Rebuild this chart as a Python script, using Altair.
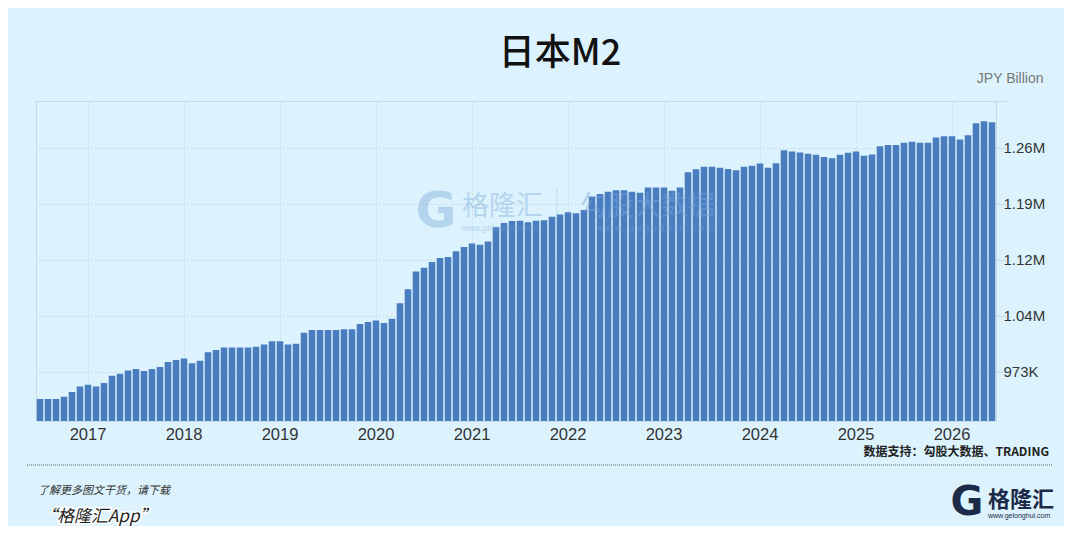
import altair as alt
import pandas as pd

# ---------------- data ----------------
months = [f"{y}-{m:02d}" for y in range(2016, 2027) for m in range(1, 13)][6:126]
year_ticks = [f"{y}-01" for y in range(2017, 2027)]

m2_values = [
    938000, 938000, 938000, 941000, 947000, 954000, 956500, 954000, 958500, 968000,
    970500, 974500, 976500, 974000, 976500, 979000, 985500, 988000, 990000, 984000,
    987000, 998000, 1001000, 1004000, 1004000, 1004000, 1004000, 1005000, 1008000, 1012000,
    1012000, 1008000, 1009000, 1023000, 1026300, 1026300, 1026300, 1026300, 1027400, 1027400,
    1034000, 1036800, 1038500, 1035500, 1040900, 1060700, 1078700, 1101400, 1106200, 1113600,
    1118700, 1120000, 1127200, 1132800, 1137300, 1135600, 1139600, 1157800, 1163400, 1166000,
    1166200, 1164400, 1166200, 1166900, 1171500, 1174200, 1177200, 1175800, 1180000, 1197300,
    1200500, 1203300, 1205300, 1205300, 1203500, 1202200, 1208900, 1208900, 1208900, 1204800,
    1208900, 1228300, 1232200, 1235400, 1235400, 1234100, 1232600, 1231000, 1235500, 1236800,
    1239500, 1234100, 1239800, 1256400, 1254900, 1253600, 1252000, 1250600, 1247800, 1246200,
    1250600, 1253400, 1254900, 1249300, 1250900, 1261700, 1263200, 1263200, 1266000, 1267300,
    1266000, 1266000, 1272900, 1274400, 1274400, 1270200, 1275600, 1291000, 1293700, 1292300,
]

y_domain = [910000, 1319500]
y_ticks = [973000, 1044600, 1116200, 1187800, 1259400, 1319500]

title_text = "日本M2"
unit_text = "JPY Billion"
source_text = "数据支持：勾股大数据、TRADING"
promo_line1 = "了解更多图文干货，请下载"
promo_line2 = "“格隆汇App”"

df = pd.DataFrame({"month": months, "value": m2_values})

BG = "#dcf3fd"
GRID = "#c6dbe6"
BAR = "#4a7dbf"
NAVY = "#1b2a48"
WM = "#7aa8da"
LATIN = "Liberation Sans"
CJK = "Noto Sans CJK SC"

bars = alt.Chart(df).mark_bar(color=BAR, clip=True).encode(
    x=alt.X(
        "month:O",
        sort=None,
        scale=alt.Scale(paddingInner=0.18, paddingOuter=0.09),
        axis=alt.Axis(
            values=year_ticks,
            labelExpr="substring(datum.value, 0, 4)",
            labelAngle=0,
            ticks=False,
            tickSize=0,
            domain=False,
            grid=True,
            gridColor=GRID,
            gridDash=[2, 2],
            labelFont=LATIN,
            labelFontSize=16.5,
            labelColor="#333333",
            labelPadding=5,
            title=None,
        ),
    ),
    y=alt.Y(
        "value:Q",
        scale=alt.Scale(domain=y_domain, nice=False, zero=False),
        axis=alt.Axis(
            orient="right",
            values=y_ticks,
            labelExpr="datum.value > 1300000 ? '' : (datum.value < 1000000 ? format(datum.value / 1000, '.0f') + 'K' : format(datum.value / 1000000, '.2f') + 'M')",
            ticks=True,
            tickSize=10,
            tickColor=GRID,
            domain=False,
            grid=True,
            gridColor=GRID,
            gridDash=[2, 2],
            labelFont=LATIN,
            labelFontSize=15,
            labelColor="#333333",
            labelPadding=-3,
            title=unit_text,
            titleAngle=0,
            titleAlign="right",
            titleBaseline="middle",
            titleX=47,
            titleY=-23,
            titleFont=LATIN,
            titleFontSize=14,
            titleFontWeight="normal",
            titleColor="#777777",
        ),
    ),
)

one = pd.DataFrame({"k": [0]})


def label(text, x, y, **style):
    return alt.Chart(one).mark_text(text=text, **style).encode(
        x=alt.value(x), y=alt.value(y)
    )


def rule(x, x2, y, y2, **style):
    return alt.Chart(one).mark_rule(**style).encode(
        x=alt.value(x), x2=alt.value(x2), y=alt.value(y), y2=alt.value(y2)
    )


# watermark
wm = [
    label("G", 400, 111, font="DejaVu Sans", fontSize=50, fontWeight="bold",
          color=WM, opacity=0.4, align="center", baseline="middle"),
    label("格隆汇", 426, 106, font=CJK, fontSize=27, color=WM, opacity=0.4,
          align="left", baseline="middle"),
    label("www.gelonghui.com", 426, 127, font=LATIN, fontSize=8.5, color=WM,
          opacity=0.4, align="left", baseline="middle"),
    rule(521, 521, 88, 130, color=WM, opacity=0.35, strokeWidth=1),
    label("勾股大数据", 544, 106, font=CJK, fontSize=27, color=WM, opacity=0.45,
          align="left", baseline="middle"),
    label("w w w . g o g u d a t a . c o m", 561, 127, font=LATIN, fontSize=9,
          color=WM, opacity=0.45, align="left", baseline="middle"),
]

# title and footer
extras = [
    label(title_text, 524, -36, font=CJK, fontSize=36, fontWeight=500,
          color="#111111", align="center", baseline="alphabetic"),
    label(source_text, 1013, 351, font=CJK, fontSize=12, fontWeight="bold",
          color="#222222", align="right", baseline="middle"),
    rule(-9, 1017, 364, 364, color="#666666", strokeDash=[1, 1], strokeWidth=1),
    label(promo_line1, 2, 390, font=CJK, fontSize=11, fontStyle="italic",
          color="#333333", align="left", baseline="middle"),
    label(promo_line2, 4, 416, font=CJK, fontSize=17, fontStyle="italic",
          color="#ffffff", stroke="#ffffff", strokeWidth=3, align="left",
          baseline="middle"),
    label(promo_line2, 4, 416, font=CJK, fontSize=17, fontStyle="italic",
          color="#222222", align="left", baseline="middle"),
    label("G", 931, 402, font="DejaVu Sans", fontSize=40, fontWeight="bold",
          color=NAVY, align="center", baseline="middle"),
    label("格隆汇", 952, 399, font=CJK, fontSize=22, fontWeight="bold",
          color=NAVY, align="left", baseline="middle"),
    label("www.gelonghui.com", 952, 415, font=LATIN, fontSize=7,
          color=NAVY, align="left", baseline="middle"),
]

chart = alt.layer(bars, *wm, *extras).properties(
    width=960,
    height=320,
    autosize=alt.AutoSizeParams(type="none"),
    padding={"left": 28, "top": 93, "right": 68, "bottom": 105},
    background=BG,
).configure_view(stroke=GRID, strokeWidth=1)

chart.save("out.html", embed_options={"renderer": "svg", "actions": False})
